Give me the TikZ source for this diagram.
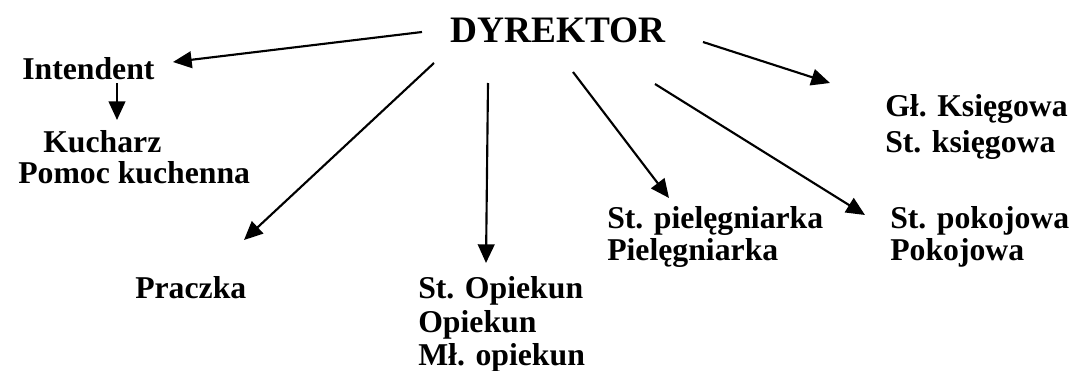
\documentclass[tikz,border=0pt]{standalone}
\usepackage{fontspec}
\setmainfont{Liberation Serif}
\usetikzlibrary{arrows.meta}
\begin{document}
\begin{tikzpicture}[x=0.75pt,y=-0.75pt,
  lbl/.style={anchor=base west, inner sep=0pt, font=\fontsize{23.8}{28}\selectfont\bfseries},
  title/.style={anchor=base west, inner sep=0pt, font=\fontsize{28}{32}\selectfont\bfseries},
  conn/.style={line width=1.6pt, -{Triangle[length=14pt,width=12.5pt]}}]
\useasboundingbox (0,0) rectangle (1072,371);
% texts
\node[title] (dyr) at (450,42) {DYREKTOR};
\node[lbl] (int) at (22,79) {Intendent};
\node[lbl] (kuch) at (43,152) {Kucharz};
\node[lbl] (pomoc) at (18,183) {Pomoc kuchenna};
\node[lbl] (pracz) at (135,298) {Praczka};
\node[lbl] (stop) at (418,298) {St. Opiekun};
\node[lbl] (op) at (418,332) {Opiekun};
\node[lbl] (mlop) at (418,365) {Mł. opiekun};
\node[lbl] (stpiel) at (607,228) {St. pielęgniarka};
\node[lbl] (piel) at (607,260) {Pielęgniarka};
\node[lbl] (stpok) at (890,228) {St. pokojowa};
\node[lbl] (pok) at (890,260) {Pokojowa};
\node[lbl] (glk) at (885,116) {Gł. Księgowa};
\node[lbl] (stk) at (885,152) {St. księgowa};
% connector ends
\coordinate (d1) at (422,32);  \coordinate (t1) at (173,62);
\coordinate (i1) at (117,83);  \coordinate (t2) at (117,120);
\coordinate (d3) at (434,63);  \coordinate (t3) at (244,240);
\coordinate (d4) at (488,83);  \coordinate (t4) at (486,263);
\coordinate (d5) at (573,72);  \coordinate (t5) at (669,198);
\coordinate (d6) at (655,84);  \coordinate (t6) at (865,215);
\coordinate (d7) at (703,42);  \coordinate (t7) at (830,83);
\draw[conn] (d1) -- (t1);
\draw[conn] (i1) -- (t2);
\draw[conn] (d3) -- (t3);
\draw[conn] (d4) -- (t4);
\draw[conn] (d5) -- (t5);
\draw[conn] (d6) -- (t6);
\draw[conn] (d7) -- (t7);
\end{tikzpicture}
\end{document}
